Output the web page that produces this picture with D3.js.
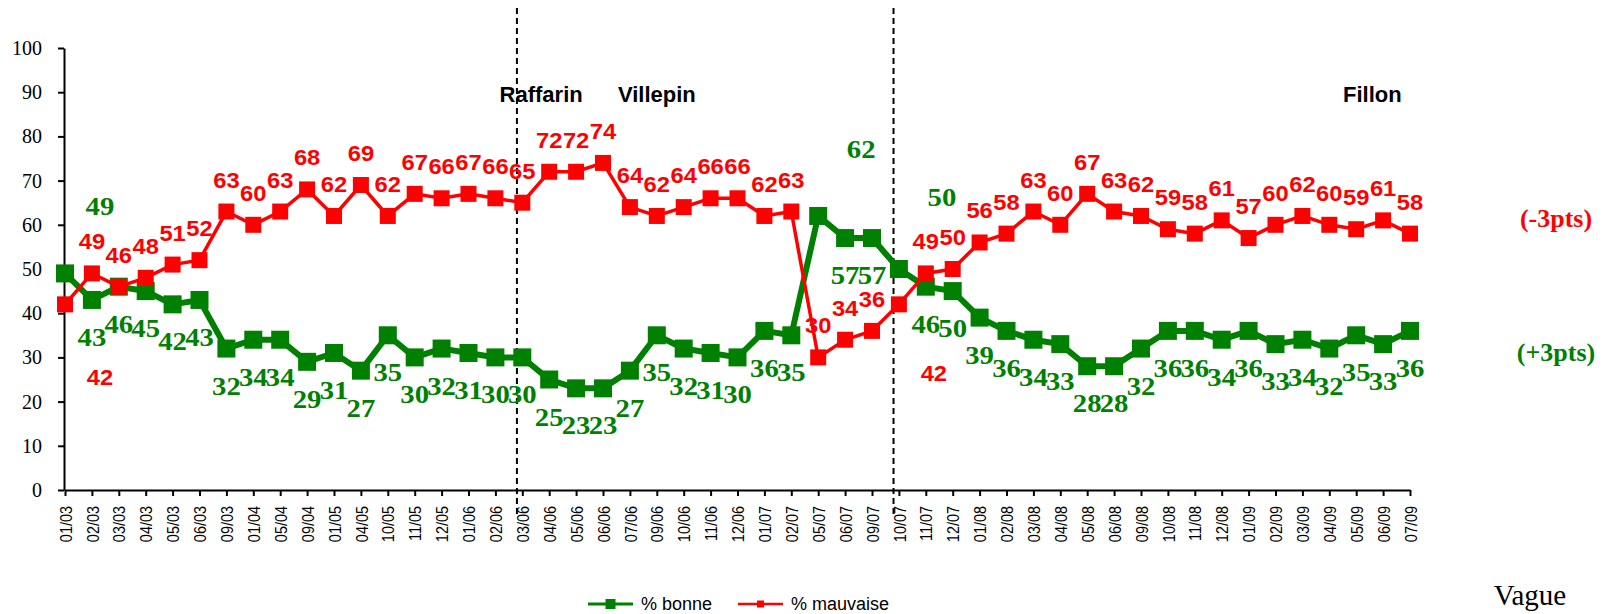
<!DOCTYPE html>
<html>
<head>
<meta charset="utf-8">
<script src="https://cdn.jsdelivr.net/npm/d3@7"></script>
<style>
  body { margin: 0; background: #fff; }
  svg { display: block; }
</style>
</head>
<body>
<svg id="chart" width="1612" height="614"></svg>
<script>
// survey waves
const vagues = ["01/03", "02/03", "03/03", "04/03", "05/03", "06/03", "09/03", "01/04", "05/04", "09/04",
  "01/05", "04/05", "10/05", "11/05", "12/05", "01/06", "02/06", "03/06", "04/06", "05/06",
  "06/06", "07/06", "09/06", "10/06", "11/06", "12/06", "01/07", "02/07", "05/07", "06/07",
  "09/07", "10/07", "11/07", "12/07", "01/08", "02/08", "03/08", "04/08", "05/08", "06/08",
  "09/08", "10/08", "11/08", "12/08", "01/09", "02/09", "03/09", "04/09", "05/09", "06/09", "07/09"];

const bonne = [49, 43, 46, 45, 42, 43, 32, 34, 34, 29, 31, 27, 35, 30, 32, 31, 30, 30, 25, 23,
  23, 27, 35, 32, 31, 30, 36, 35, 62, 57, 57, 50, 46, 45, 39, 36, 34, 33, 28, 28,
  32, 36, 36, 34, 36, 33, 34, 32, 35, 33, 36];

const mauvaise = [42, 49, 46, 48, 51, 52, 63, 60, 63, 68, 62, 69, 62, 67, 66, 67, 66, 65, 72, 72,
  74, 64, 62, 64, 66, 66, 62, 63, 30, 34, 36, 42, 49, 50, 56, 58, 63, 60, 67, 63,
  62, 59, 58, 61, 57, 60, 62, 60, 59, 61, 58];

// label printed in the source differs from the plotted value here
const bonneLabelText = { 33: "50" };

const periodes = ["Raffarin", "Villepin", "Fillon"];
const changements = ["(-3pts)", "(+3pts)"];

const svg = d3.select("#chart");

const x = d3.scaleLinear().domain([0, vagues.length - 1]).range([65, 1410]);
const y = d3.scaleLinear().domain([0, 100]).range([490, 48]);

const green = "#008000", red = "#ff0000";
const sans = "Liberation Sans, Arial, sans-serif";
const serif = "Liberation Serif, Times New Roman, serif";

// axes
const yAxis = svg.append("g")
  .attr("transform", "translate(64,0)")
  .call(d3.axisLeft(y).tickValues(d3.range(0, 101, 10)).tickSize(6).tickSizeOuter(0).tickPadding(16));
yAxis.selectAll("text")
  .attr("font-family", serif)
  .attr("font-size", 20)
  .attr("fill", "#000");

const xAxis = svg.append("g")
  .attr("transform", "translate(0,490)")
  .call(d3.axisBottom(x).tickValues(d3.range(vagues.length)).tickFormat(i => vagues[i])
    .tickSize(6).tickSizeOuter(0));
xAxis.selectAll("text")
  .attr("font-family", sans)
  .attr("font-size", 17)
  .attr("fill", "#000")
  .attr("text-anchor", "end")
  .attr("x", 0)
  .attr("y", 0)
  .attr("dy", "0.36em")
  .attr("transform", "rotate(-90) translate(-16,0) scale(0.85,1)");

svg.selectAll(".domain, .tick line").attr("stroke", "#000").attr("stroke-width", 2);

// period separators
[16.8, 30.8].forEach(i => {
  svg.append("line")
    .attr("x1", x(i)).attr("x2", x(i))
    .attr("y1", 8).attr("y2", 514)
    .attr("stroke", "#000").attr("stroke-width", 2)
    .attr("stroke-dasharray", "6,4");
});

const periodPos = [17.7, 22.0, 48.6];
svg.selectAll(".periode").data(periodes).join("text")
  .attr("x", (d, i) => x(periodPos[i]))
  .attr("y", 102)
  .attr("text-anchor", "middle")
  .attr("font-family", sans)
  .attr("font-weight", "bold")
  .attr("font-size", 22)
  .text(d => d);

// series
const line = d3.line().x((d, i) => x(i)).y(d => y(d));

function drawSeries(values, color, width, size) {
  svg.append("path").datum(values)
    .attr("fill", "none").attr("stroke", color).attr("stroke-width", width)
    .attr("d", line);
  svg.append("g").selectAll("rect").data(values).join("rect")
    .attr("x", (d, i) => x(i) - size / 2)
    .attr("y", d => y(d) - size / 2)
    .attr("width", size).attr("height", size)
    .attr("fill", color);
}
drawSeries(bonne, green, 6, 18);
drawSeries(mauvaise, red, 3.5, 16);

// data labels; a few were dragged away from their point in the original
const movedBonne = { 0: [1.3, 15], 28: [1.6, 15], 31: [1.6, 16] };
const movedMauvaise = { 0: [1.3, -16.5], 31: [1.3, -15.5] };

svg.append("g").selectAll("text").data(bonne).join("text")
  .attr("transform", (d, i) => {
    const m = movedBonne[i];
    const tx = m ? x(i + m[0]) : x(i);
    const ty = m ? y(d + m[1]) + 8 : y(d) + 46;
    return `translate(${tx},${ty}) scale(1.15,1)`;
  })
  .attr("text-anchor", "middle")
  .attr("font-family", serif)
  .attr("font-weight", "bold")
  .attr("font-size", 25)
  .attr("fill", green)
  .text((d, i) => bonneLabelText[i] || d);

svg.append("g").selectAll("text").data(mauvaise).join("text")
  .attr("transform", (d, i) => {
    const m = movedMauvaise[i];
    const tx = m ? x(i + m[0]) : x(i);
    const ty = m ? y(d + m[1]) + 8 : y(d) - 24;
    return `translate(${tx},${ty}) scale(1.08,1)`;
  })
  .attr("text-anchor", "middle")
  .attr("font-family", sans)
  .attr("font-weight", "bold")
  .attr("font-size", 22)
  .attr("fill", red)
  .text(d => d);

// change since previous wave
svg.selectAll(".chg").data(changements).join("text")
  .attr("x", 1556)
  .attr("y", (d, i) => i === 0 ? 227 : 361)
  .attr("text-anchor", "middle")
  .attr("font-family", serif)
  .attr("font-weight", "bold")
  .attr("font-size", 26)
  .attr("fill", (d, i) => i === 0 ? red : green)
  .text(d => d);

// axis title
svg.append("text")
  .attr("x", 1530).attr("y", 605)
  .attr("text-anchor", "middle")
  .attr("font-family", serif)
  .attr("font-size", 29)
  .text("Vague");

// legend
const legend = [
  { name: "% bonne", color: green, x0: 588, size: 10, width: 3 },
  { name: "% mauvaise", color: red, x0: 738, size: 7, width: 2.5 }
];
legend.forEach(l => {
  const g = svg.append("g").attr("transform", `translate(${l.x0},604)`);
  g.append("line").attr("x1", 0).attr("x2", 45).attr("stroke", l.color).attr("stroke-width", l.width);
  g.append("rect").attr("x", 22.5 - l.size / 2).attr("y", -l.size / 2)
    .attr("width", l.size).attr("height", l.size).attr("fill", l.color);
  g.append("text").attr("x", 53).attr("y", 6)
    .attr("font-family", sans)
    .attr("font-size", 18)
    .text(l.name);
});
</script>
</body>
</html>
